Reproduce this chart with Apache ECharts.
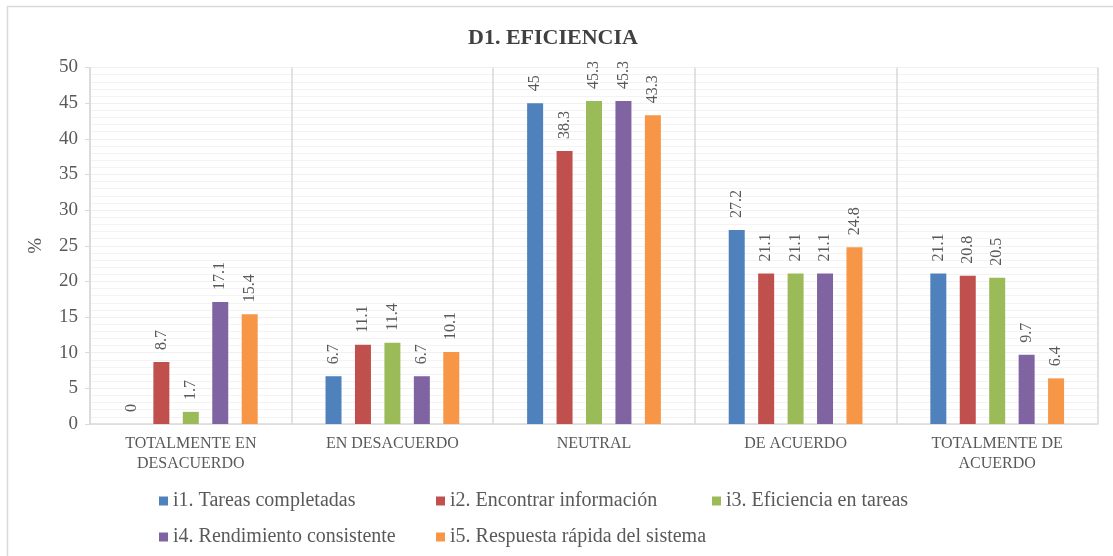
<!DOCTYPE html>
<html>
<head>
<meta charset="utf-8">
<script src="https://cdn.jsdelivr.net/npm/echarts@6/dist/echarts.min.js"></script>
<style>
  html, body { margin: 0; padding: 0; background: #fff; }
  #chart { width: 1113px; height: 556px; }
</style>
</head>
<body>
<div id="chart"></div>
<script>
// Response categories (x axis)
const categories = ['TOTALMENTE EN\nDESACUERDO', 'EN DESACUERDO', 'NEUTRAL', 'DE ACUERDO', 'TOTALMENTE DE\nACUERDO'];

// Percentages per indicator
const seriesNames = [
  'i1. Tareas completadas',
  'i2. Encontrar información',
  'i3. Eficiencia en tareas',
  'i4. Rendimiento consistente',
  'i5. Respuesta rápida del sistema'
];
const i1 = [0, 6.7, 45, 27.2, 21.1];
const i2 = [8.7, 11.1, 38.3, 21.1, 20.8];
const i3 = [1.7, 11.4, 45.3, 21.1, 20.5];
const i4 = [17.1, 6.7, 45.3, 21.1, 9.7];
const i5 = [15.4, 10.1, 43.3, 24.8, 6.4];
const seriesValues = [i1, i2, i3, i4, i5];

const colors = ['#4F81BD', '#C0504D', '#9BBB59', '#8064A2', '#F79646'];

const serif = '"Liberation Serif", "DejaVu Serif", serif';
const textGray = '#595959';

// Legend entries laid out in two rows, three columns
const legendSpots = [
  { left: 154, top: 486 },
  { left: 431, top: 486 },
  { left: 707, top: 486 },
  { left: 154, top: 522 },
  { left: 431, top: 522 }
];

const chart = echarts.init(document.getElementById('chart'), null, { renderer: 'canvas' });

chart.setOption({
  animation: false,
  color: colors,
  title: {
    text: 'D1. EFICIENCIA',
    left: 548,
    textAlign: 'center',
    top: 22,
    textStyle: { fontFamily: serif, fontSize: 22, fontWeight: 'bold', color: '#404040' }
  },
  graphic: [{
    type: 'rect',
    shape: { x: 7.5, y: 6.5, width: 1120, height: 560 },
    style: { fill: 'none', stroke: '#d9d9d9', lineWidth: 1.5 },
    silent: true
  }],
  legend: seriesNames.map((name, k) => ({
    data: [name],
    left: legendSpots[k].left,
    top: legendSpots[k].top,
    icon: 'rect',
    itemWidth: 9,
    itemHeight: 9,
    itemGap: 6,
    textStyle: { fontFamily: serif, fontSize: 20, color: textGray },
    selectedMode: false
  })),
  grid: { left: 90, right: 15, top: 67.5, bottom: 132 },
  xAxis: {
    type: 'category',
    data: categories,
    axisLine: { lineStyle: { color: '#d9d9d9', width: 1.5 } },
    axisTick: { show: false },
    splitLine: { show: true, lineStyle: { color: '#d9d9d9', width: 1.5 } },
    axisLabel: {
      interval: 0,
      margin: 10,
      fontFamily: serif,
      fontSize: 16,
      lineHeight: 20,
      color: textGray
    }
  },
  yAxis: {
    type: 'value',
    min: 0,
    max: 50,
    interval: 5,
    name: '%',
    nameLocation: 'middle',
    nameGap: 44,
    nameRotate: 90,
    nameTextStyle: { fontFamily: serif, fontSize: 19, color: textGray },
    axisLine: { show: true, lineStyle: { color: '#d9d9d9', width: 1.5 } },
    axisTick: { show: true, length: 5, lineStyle: { color: '#d9d9d9' } },
    axisLabel: { fontFamily: serif, fontSize: 19, color: textGray, margin: 12 },
    splitLine: { show: true, lineStyle: { color: '#f0f0f0', width: 1 } },
    minorTick: { show: false, splitNumber: 5 },
    minorSplitLine: { show: true, lineStyle: { color: '#f3f3f3', width: 1 } }
  },
  series: seriesNames.map((name, k) => ({
    name: name,
    type: 'bar',
    data: seriesValues[k],
    barWidth: 16,
    barGap: '84%',
    itemStyle: { color: colors[k] },
    label: {
      show: true,
      position: 'top',
      rotate: 90,
      align: 'left',
      verticalAlign: 'middle',
      distance: 12,
      fontFamily: serif,
      fontSize: 16,
      color: textGray
    }
  }))
});
</script>
</body>
</html>
